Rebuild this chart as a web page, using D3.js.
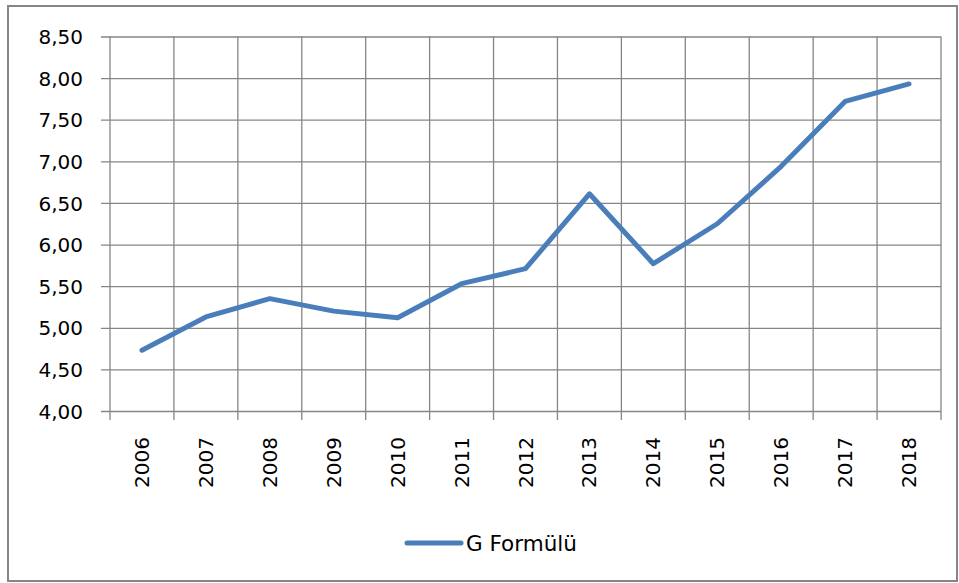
<!DOCTYPE html>
<html>
<head>
<meta charset="utf-8">
<script src="https://cdn.jsdelivr.net/npm/d3@7"></script>
<style>
  body { margin: 0; background: #fff; }
  text { font-family: "DejaVu Sans", Verdana, sans-serif; fill: #000; }
</style>
</head>
<body>
<div id="chart"></div>
<script>
var years = ["2006", "2007", "2008", "2009", "2010", "2011", "2012", "2013", "2014", "2015", "2016", "2017", "2018"]
var gValues = [4.73, 5.13, 5.35, 5.20, 5.12, 5.53, 5.71, 6.61, 5.77, 6.25, 6.94, 7.72, 7.93]
var yTicks = [4.0, 4.5, 5.0, 5.5, 6.0, 6.5, 7.0, 7.5, 8.0, 8.5]
var seriesName = "G Formülü"

var width = 959, height = 583
var margin = {top: 36.5, right: 18, bottom: 172, left: 110}
var chartWidth = width - margin.left - margin.right
var chartHeight = height - margin.top - margin.bottom

var svg = d3.select("#chart").append("svg")
    .attr("width", width)
    .attr("height", height)

// outer frame
svg.append("rect")
    .attr("x", 8).attr("y", 6)
    .attr("width", 949).attr("height", 575)
    .attr("fill", "#fff")
    .attr("stroke", "#868686")
    .attr("stroke-width", 2)

var xScale = d3.scaleBand().domain(years).range([0, chartWidth])
var yScale = d3.scaleLinear().domain([4, 8.5]).range([chartHeight, 0])

var chartLayer = svg.append("g")
    .attr("transform", "translate(" + [margin.left, margin.top] + ")")

// horizontal grid + y axis
var yAxis = d3.axisLeft(yScale)
    .tickValues(yTicks)
    .tickSizeInner(-chartWidth)
    .tickSizeOuter(0)
    .tickFormat(function (d) { return d3.format(".2f")(d).replace(".", ",") })

var yG = chartLayer.append("g").attr("class", "axis y").call(yAxis)
yG.select(".domain").remove()
yG.selectAll(".tick line")
    .attr("x1", -9)
    .attr("stroke", "#868686")
    .attr("stroke-width", 1.3)
yG.selectAll(".tick text")
    .attr("x", -27)
    .attr("dy", "0.36em")
    .style("font-size", "20px")

// vertical grid at band edges
var edges = years.map(function (d) { return xScale(d) }).concat([chartWidth])
chartLayer.selectAll(".vgrid").data(edges).enter().append("line")
    .attr("class", "vgrid")
    .attr("x1", function (d) { return d }).attr("x2", function (d) { return d })
    .attr("y1", 0).attr("y2", chartHeight + 9)
    .attr("stroke", "#868686")
    .attr("stroke-width", 1.3)

// x labels, rotated
chartLayer.selectAll(".xlab").data(years).enter().append("text")
    .attr("class", "xlab")
    .attr("transform", function (d) {
        return "translate(" + [xScale(d) + xScale.bandwidth() / 2 + 7, chartHeight + 26] + ") rotate(-90)"
    })
    .attr("text-anchor", "end")
    .style("font-size", "20px")
    .text(function (d) { return d })

// line
var line = d3.line()
    .x(function (d, i) { return xScale(years[i]) + xScale.bandwidth() / 2 })
    .y(function (d) { return yScale(d) })

chartLayer.append("path")
    .datum(gValues)
    .attr("d", line)
    .attr("fill", "none")
    .attr("stroke", "#4A7EBB")
    .attr("stroke-width", 5)
    .attr("stroke-linejoin", "round")
    .attr("stroke-linecap", "round")

// legend
var legend = svg.append("g").attr("transform", "translate(" + [407, 543] + ")")
legend.append("line")
    .attr("x1", 0).attr("x2", 54)
    .attr("y1", 0).attr("y2", 0)
    .attr("stroke", "#4A7EBB")
    .attr("stroke-width", 5)
    .attr("stroke-linecap", "round")
legend.append("text")
    .attr("x", 59).attr("y", 0)
    .attr("dy", "0.36em")
    .style("font-size", "21.5px")
    .text(seriesName)
</script>
</body>
</html>
